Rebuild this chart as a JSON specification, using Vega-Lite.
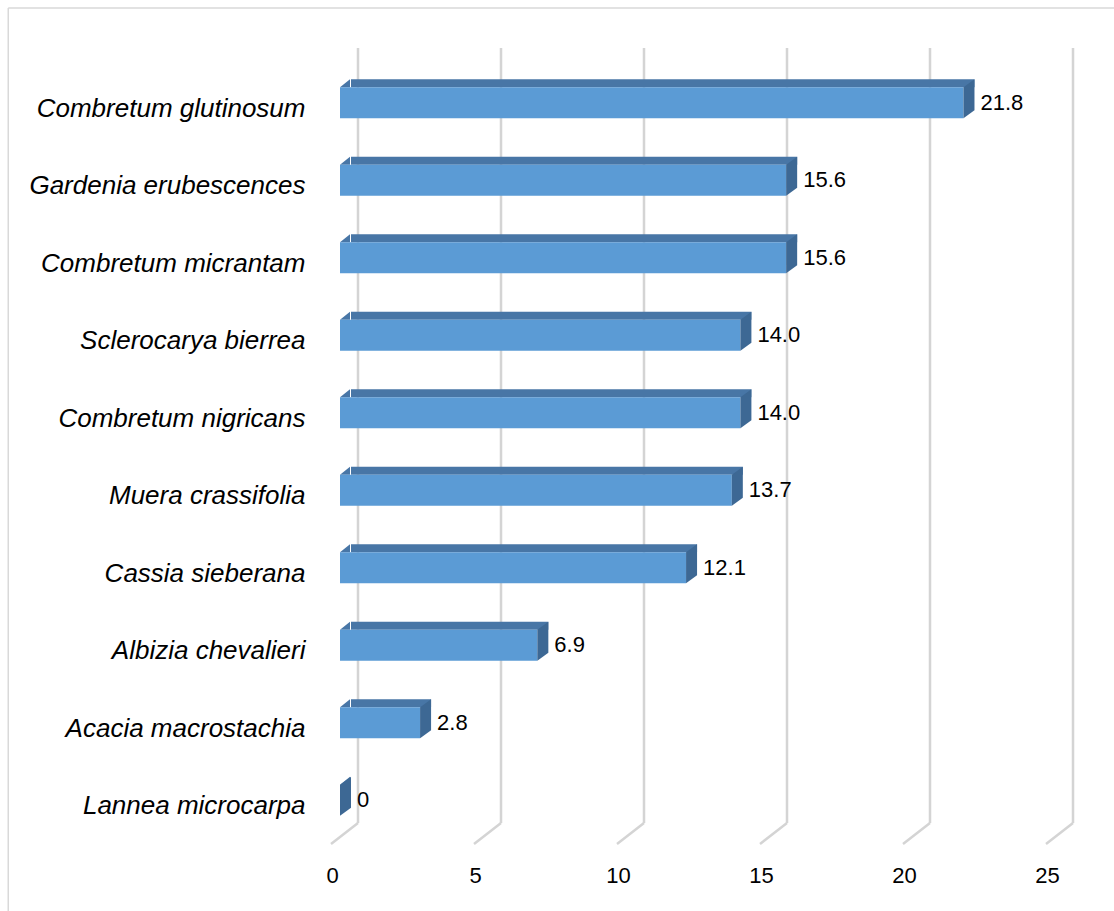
{
  "$schema": "https://vega.github.io/schema/vega-lite/v6.json",
  "width": 715,
  "height": 775,
  "autosize": {"type": "none"},
  "padding": {"left": 340, "top": 48, "right": 59, "bottom": 88},
  "background": "white",
  "config": {
    "view": {"stroke": null},
    "font": "Liberation Sans",
    "axisY": {"labelFontSize": 26, "labelFontStyle": "italic", "labelColor": "#000000", "labelPadding": 35, "labelOffset": 22, "labelLimit": 400, "ticks": false, "domain": false, "grid": false},
    "axisX": {"labelFontSize": 22, "labelColor": "#000000", "labelOffset": -8, "labelPadding": 42, "labelFlush": false, "labelOverlap": false, "ticks": false, "domain": false, "grid": false, "tickCount": 6}
  },
  "datasets": {
    "species": [
      {"cat": "Combretum glutinosum\u00a0", "v": 21.8},
      {"cat": "Gardenia erubescences", "v": 15.6},
      {"cat": "Combretum micrantam\u00a0", "v": 15.6},
      {"cat": "Sclerocarya bierrea", "v": 14.0},
      {"cat": "Combretum nigricans\u00a0", "v": 14.0},
      {"cat": "Muera crassifolia", "v": 13.7},
      {"cat": "Cassia sieberana", "v": 12.1},
      {"cat": "Albizia chevalieri\u00a0", "v": 6.9},
      {"cat": "Acacia macrostachia", "v": 2.8},
      {"cat": "Lannea microcarpa", "v": 0}
    ],
    "ticks": [{"t": 0}, {"t": 5}, {"t": 10}, {"t": 15}, {"t": 20}, {"t": 25}]
  },
  "data": {"name": "species"},
  "layer": [
    {
      "data": {"name": "ticks"},
      "transform": [{"filter": "datum.t === 0"}],
      "mark": {"type": "rule", "color": "#d9d9d9", "strokeWidth": 1.5, "yOffset": -78.75, "y2Offset": 150},
      "encoding": {
        "x": {"datum": -11.6, "type": "quantitative", "title": null},
        "y": {"datum": "Combretum glutinosum\u00a0", "type": "nominal", "title": null},
        "y2": {"datum": "Lannea microcarpa"}
      }
    },
    {
      "data": {"name": "ticks"},
      "transform": [{"filter": "datum.t === 0"}],
      "mark": {"type": "rule", "color": "#d9d9d9", "strokeWidth": 1.5, "yOffset": -78.75},
      "encoding": {
        "x": {"datum": -11.6, "type": "quantitative", "title": null},
        "x2": {"datum": 40},
        "y": {"datum": "Combretum glutinosum\u00a0", "type": "nominal", "title": null}
      }
    },
    {
      "data": {"name": "ticks"},
      "mark": {"type": "rule", "color": "#d4d4d4", "strokeWidth": 2.5, "xOffset": 18},
      "encoding": {
        "x": {"field": "t", "type": "quantitative", "title": null, "scale": {"domain": [0, 25], "nice": false, "zero": false}}
      }
    },
    {
      "data": {"name": "ticks"},
      "mark": {"type": "rule", "color": "#d4d4d4", "strokeWidth": 2.5, "xOffset": 18, "x2Offset": -9, "yOffset": 38.75, "y2Offset": 59.75},
      "encoding": {
        "x": {"field": "t", "type": "quantitative", "title": null},
        "x2": {"field": "t"},
        "y": {"datum": "Lannea microcarpa", "type": "nominal", "title": null},
        "y2": {"datum": "Lannea microcarpa"}
      }
    },
    {
      "mark": {"type": "bar", "color": "#4876a6", "height": 8, "xOffset": 11, "x2Offset": 10, "yOffset": -3.5, "stack": null},
      "encoding": {
        "y": {"field": "cat", "type": "nominal", "sort": null, "title": null,
          "scale": {"domain": ["Combretum glutinosum\u00a0", "Gardenia erubescences", "Combretum micrantam\u00a0", "Sclerocarya bierrea", "Combretum nigricans\u00a0", "Muera crassifolia", "Cassia sieberana", "Albizia chevalieri\u00a0", "Acacia macrostachia", "Lannea microcarpa"], "paddingInner": 0, "paddingOuter": 0}},
        "x": {"field": "v", "type": "quantitative", "title": null, "axis": {"values": [0, 5, 10, 15, 20, 25]}}
      }
    },
    {
      "mark": {"type": "point", "shape": "M0,-15.5L10,-23.5L10,-15.5Z", "size": 4, "filled": true, "opacity": 1, "strokeWidth": 0, "color": "#4876a6", "yOffset": 16},
      "encoding": {
        "y": {"field": "cat", "type": "nominal", "sort": null, "title": null},
        "x": {"datum": 0, "type": "quantitative", "title": null}
      }
    },
    {
      "mark": {"type": "bar", "color": "#5b9bd5", "height": 31, "yOffset": 16, "stack": null},
      "encoding": {
        "y": {"field": "cat", "type": "nominal", "sort": null, "title": null},
        "x": {"field": "v", "type": "quantitative", "title": null}
      }
    },
    {
      "mark": {"type": "point", "shape": "M0,-15.5L11,-23.5L11,7.5L0,15.5Z", "size": 4, "filled": true, "opacity": 1, "strokeWidth": 0, "color": "#3d6894", "yOffset": 16},
      "encoding": {
        "y": {"field": "cat", "type": "nominal", "sort": null, "title": null},
        "x": {"field": "v", "type": "quantitative", "title": null}
      }
    },
    {
      "mark": {"type": "text", "align": "left", "baseline": "middle", "dx": 17, "yOffset": 16, "fontSize": 22, "color": "#000000"},
      "encoding": {
        "y": {"field": "cat", "type": "nominal", "sort": null, "title": null},
        "x": {"field": "v", "type": "quantitative", "title": null},
        "text": {"condition": {"test": "datum.v === 0", "value": "0"}, "field": "v", "type": "quantitative", "format": ".1f"}
      }
    }
  ]
}
